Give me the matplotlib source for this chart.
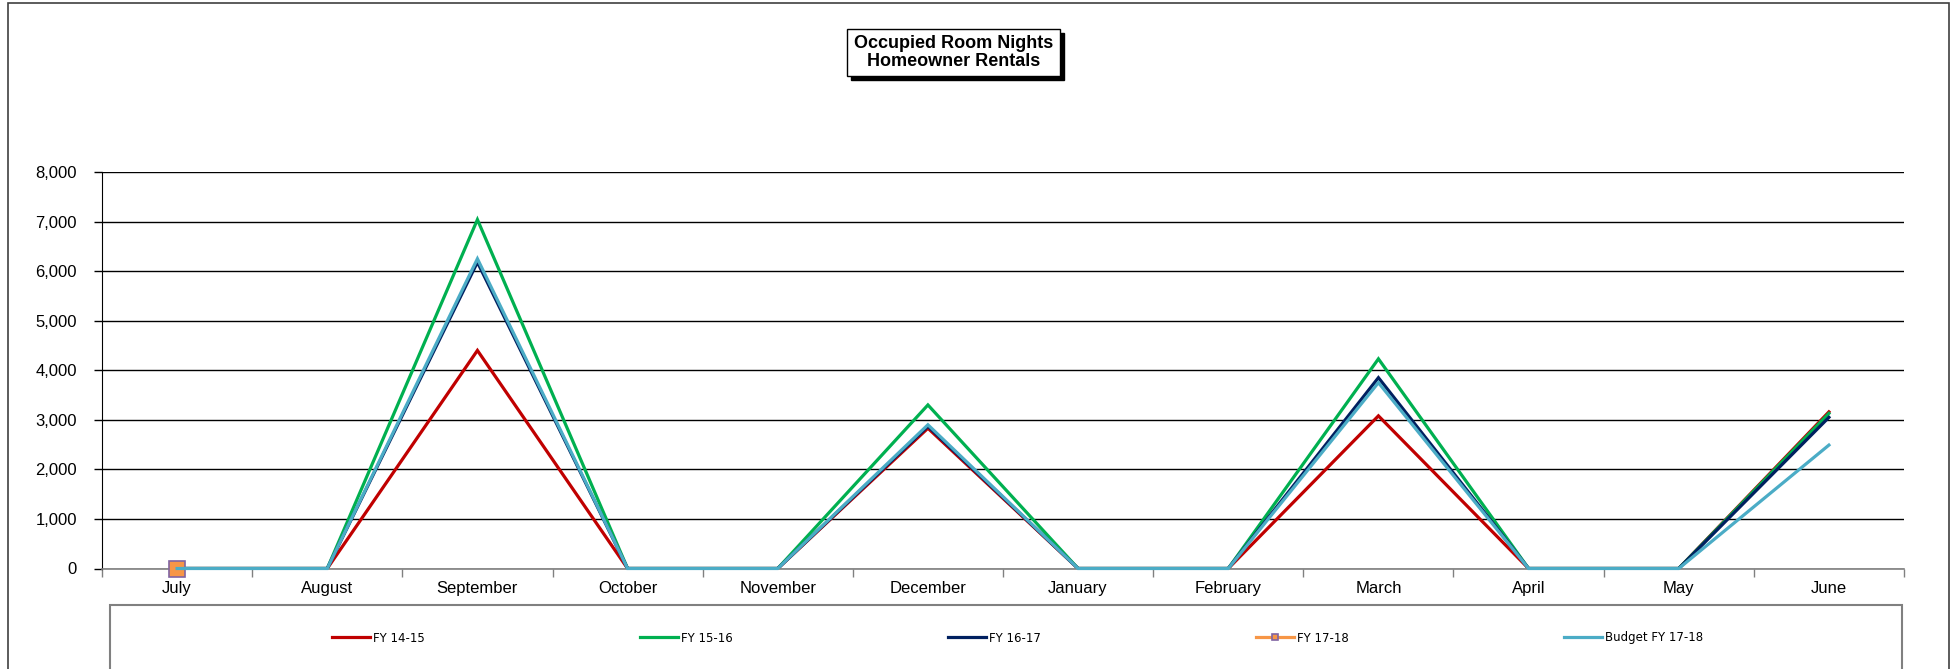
import matplotlib
matplotlib.use("Agg")
import matplotlib.pyplot as plt
from matplotlib.patches import Rectangle
from matplotlib.ticker import FuncFormatter, FixedLocator

# data
months = ['July', 'August', 'September', 'October', 'November', 'December',
          'January', 'February', 'March', 'April', 'May', 'June']
fy_14_15 = [0, 0, 4400, 0, 0, 2830, 0, 0, 3080, 0, 0, 3160]
fy_15_16 = [0, 0, 7040, 0, 0, 3300, 0, 0, 4230, 0, 0, 3130]
fy_16_17 = [0, 0, 6180, 0, 0, 2870, 0, 0, 3850, 0, 0, 3050]
fy_17_18 = [0]
budget_17_18 = [0, 0, 6250, 0, 0, 2900, 0, 0, 3750, 0, 0, 2490]

W, H = 1955, 669
fig = plt.figure(figsize=(W / 100, H / 100), dpi=100)
plt.rcParams['font.family'] = ['Liberation Sans', 'DejaVu Sans']


def fx(px):
    return px / W


def fy(py):
    return 1 - py / H


# outer border
fig.patches.append(Rectangle((fx(8), fy(700)), fx(1949) - fx(8), fy(3) - fy(700),
                             transform=fig.transFigure, fill=False,
                             edgecolor='#404040', linewidth=1.2))

ax = fig.add_axes([fx(102), fy(568.5), fx(1904) - fx(102), fy(172) - fy(568.5)])
x = list(range(len(months)))
lw = 2.3
ax.plot(x, fy_14_15, color='#C00000', lw=lw, label='FY 14-15', solid_joinstyle='miter')
ax.plot(x, fy_15_16, color='#00B050', lw=lw, label='FY 15-16', solid_joinstyle='miter')
ax.plot(x, fy_16_17, color='#002060', lw=lw, label='FY 16-17', solid_joinstyle='miter')
ax.plot(x[:len(fy_17_18)], fy_17_18, color='#F79646', lw=lw, marker='s', markersize=11,
        markerfacecolor='#F79646', markeredgecolor='#8064A2', markeredgewidth=1.2,
        label='FY 17-18', clip_on=False, zorder=3)
ax.plot(x, budget_17_18, color='#4BACC6', lw=lw, label='Budget FY 17-18',
        solid_joinstyle='miter', clip_on=False, zorder=4)

ax.set_xlim(-0.5, len(months) - 0.5)
ax.set_ylim(0, 8000)
ax.set_yticks(range(0, 8001, 1000))
ax.yaxis.set_major_formatter(FuncFormatter(lambda v, p: f"{int(v):,}"))
ax.grid(axis='y', color='black', linewidth=1.0)
ax.set_axisbelow(True)

ax.set_xticks(x)
ax.set_xticklabels(months)
ax.xaxis.set_minor_locator(FixedLocator([i - 0.5 for i in range(len(months) + 1)]))
ax.tick_params(axis='x', which='major', length=0, pad=9, labelsize=12)
ax.tick_params(axis='x', which='minor', length=6, direction='out', color='#808080', width=1)
ax.tick_params(axis='y', length=6, direction='out', pad=12, labelsize=12, width=1)

for s in ['top', 'right']:
    ax.spines[s].set_visible(False)
ax.spines['left'].set_color('black')
ax.spines['bottom'].set_color('#808080')
ax.spines['bottom'].set_linewidth(1.2)

# title box with shadow
fig.patches.append(Rectangle((fx(851), fy(80)), fx(1064) - fx(851), fy(33) - fy(80),
                             transform=fig.transFigure, facecolor='black', edgecolor='black'))
fig.patches.append(Rectangle((fx(847), fy(76)), fx(1060) - fx(847), fy(29) - fy(76),
                             transform=fig.transFigure, facecolor='white', edgecolor='black',
                             linewidth=1))
fig.text(fx(953.5), fy(52.5), 'Occupied Room Nights\nHomeowner Rentals', ha='center',
         va='center', fontsize=13, fontweight='bold', linespacing=1.05)

# legend box
fig.patches.append(Rectangle((fx(110), fy(700)), fx(1902) - fx(110), fy(605) - fy(700),
                             transform=fig.transFigure, fill=False,
                             edgecolor='#808080', linewidth=1.5))
handles, labels = ax.get_legend_handles_labels()
fig.legend(handles, labels, loc='center left', bbox_to_anchor=(fx(332), fy(638)),
           ncol=5, frameon=False, handlelength=3.2, handletextpad=0.3, columnspacing=18.2,
           borderpad=0, borderaxespad=0, markerscale=0.45,
           prop={'family': 'Liberation Sans Narrow', 'size': 8.5})

fig.savefig('out.png', dpi=100)
